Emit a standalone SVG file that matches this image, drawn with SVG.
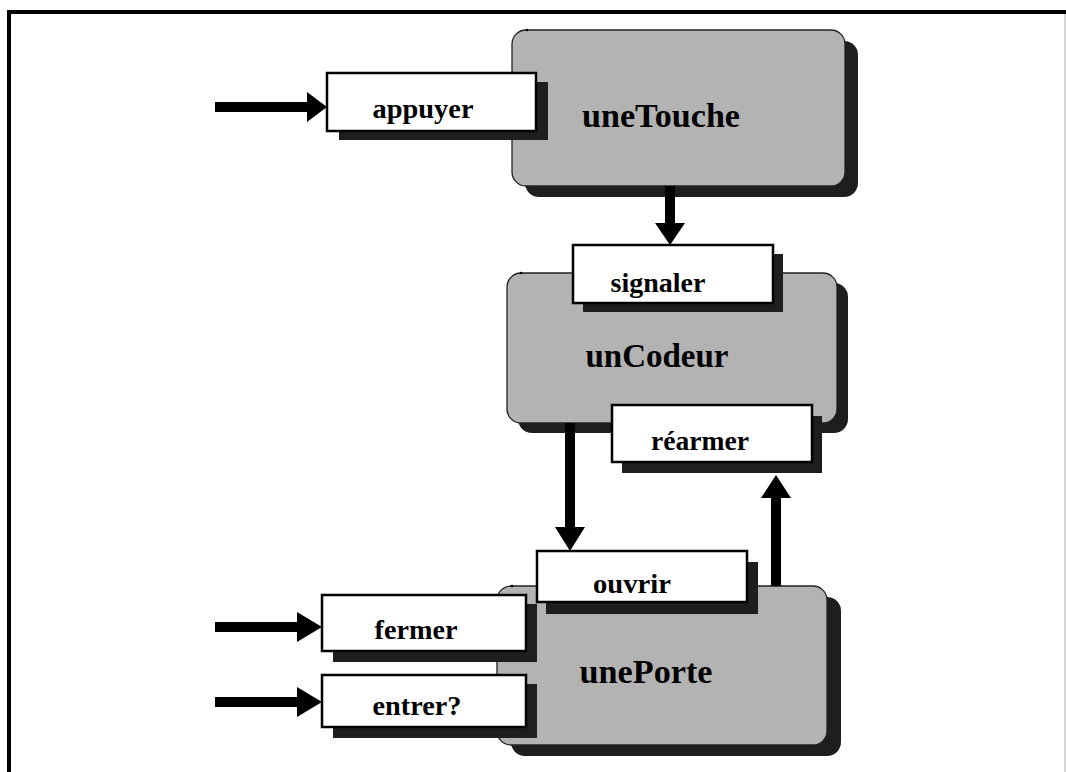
<svg xmlns="http://www.w3.org/2000/svg" width="1066" height="772" viewBox="0 0 1066 772">
  <style>
    .obj { fill: #b3b3b3; stroke: #222; stroke-width: 1.3; }
    .objshadow { fill: #1e1e1e; }
    .op { fill: #fff; stroke: #000; stroke-width: 2.5; }
    .opshadow { fill: #1e1e1e; }
    .name { font-family: "Liberation Serif", "Times New Roman", serif; font-weight: bold; font-size: 34px; fill: #000; text-anchor: middle; }
    .label { font-family: "Liberation Serif", "Times New Roman", serif; font-weight: bold; font-size: 28px; fill: #000; text-anchor: middle; }
    .wire { stroke: #000; stroke-width: 10; fill: none; }
    .head { fill: #000; }
    .tick { fill: #000; }
  </style>

  <!-- frame -->
  <rect x="0" y="0" width="1066" height="772" fill="#fff"/>
  <line x1="9" y1="12" x2="1066" y2="12" stroke="#000" stroke-width="4"/>
  <line x1="9" y1="10" x2="9" y2="772" stroke="#000" stroke-width="4"/>
  <line x1="1065" y1="14" x2="1065" y2="772" stroke="#c8c8c8" stroke-width="1.5"/>

  <!-- object: uneTouche -->
  <g id="uneTouche">
    <rect class="objshadow" x="525" y="41" width="333" height="156" rx="14"/>
    <rect class="obj" x="512" y="30" width="333" height="156" rx="14"/>
    <circle class="tick" cx="527" cy="30" r="1.3"/>
    <text class="name" x="661" y="127" textLength="158" lengthAdjust="spacingAndGlyphs">uneTouche</text>
  </g>

  <!-- operation: appuyer -->
  <g id="appuyer">
    <rect class="opshadow" x="339" y="82" width="209" height="58"/>
    <rect class="op" x="327" y="73" width="209" height="58"/>
    <text class="label" x="423" y="118" textLength="101" lengthAdjust="spacingAndGlyphs">appuyer</text>
  </g>

  <!-- object: unCodeur -->
  <g id="unCodeur">
    <rect class="objshadow" x="518" y="283" width="330" height="150" rx="14"/>
    <rect class="obj" x="507" y="273" width="330" height="150" rx="14"/>
    <circle class="tick" cx="521" cy="273" r="1.3"/>
    <text class="name" x="657" y="367" textLength="143" lengthAdjust="spacingAndGlyphs">unCodeur</text>
  </g>

  <!-- operation: signaler -->
  <g id="signaler">
    <rect class="opshadow" x="583" y="254" width="200" height="58"/>
    <rect class="op" x="573" y="245" width="200" height="58"/>
    <text class="label" x="658" y="292" textLength="95" lengthAdjust="spacingAndGlyphs">signaler</text>
  </g>

  <!-- operation: réarmer -->
  <g id="rearmer">
    <rect class="opshadow" x="622" y="416" width="200" height="57"/>
    <rect class="op" x="612" y="405" width="200" height="57"/>
    <text class="label" x="700" y="450" textLength="98" lengthAdjust="spacingAndGlyphs">réarmer</text>
  </g>

  <!-- object: unePorte -->
  <g id="unePorte">
    <rect class="objshadow" x="511" y="597" width="330" height="159" rx="14"/>
    <rect class="obj" x="497" y="586" width="330" height="159" rx="14"/>
    <circle class="tick" cx="512" cy="586" r="1.3"/>
    <text class="name" x="646" y="683" textLength="133" lengthAdjust="spacingAndGlyphs">unePorte</text>
  </g>

  <!-- operation: ouvrir -->
  <g id="ouvrir">
    <rect class="opshadow" x="546" y="562" width="212" height="52"/>
    <rect class="op" x="537" y="551" width="210" height="51"/>
    <text class="label" x="632" y="593" textLength="78" lengthAdjust="spacingAndGlyphs">ouvrir</text>
  </g>

  <!-- operation: fermer -->
  <g id="fermer">
    <rect class="opshadow" x="333" y="604" width="204" height="58"/>
    <rect class="op" x="322" y="595" width="204" height="56"/>
    <text class="label" x="416" y="639" textLength="83" lengthAdjust="spacingAndGlyphs">fermer</text>
  </g>

  <!-- operation: entrer? -->
  <g id="entrer">
    <rect class="opshadow" x="333" y="684" width="204" height="54"/>
    <rect class="op" x="322" y="675" width="204" height="52"/>
    <text class="label" x="417" y="715" textLength="89" lengthAdjust="spacingAndGlyphs">entrer?</text>
  </g>

  <!-- message arrows -->
  <g id="connectors">
    <line class="wire" x1="215" y1="107" x2="310" y2="107"/>
    <polygon class="head" points="307,92 327,107 307,122"/>

    <line class="wire" x1="670" y1="186" x2="670" y2="226"/>
    <polygon class="head" points="655,223 685,223 670,245"/>

    <line class="wire" x1="570" y1="423" x2="570" y2="530"/>
    <polygon class="head" points="555,527 585,527 570,551"/>

    <line class="wire" x1="776" y1="586" x2="776" y2="495"/>
    <polygon class="head" points="761,498 791,498 776,475"/>

    <line class="wire" x1="215" y1="627" x2="300" y2="627"/>
    <polygon class="head" points="297,612 322,627 297,642"/>

    <line class="wire" x1="215" y1="702" x2="300" y2="702"/>
    <polygon class="head" points="297,687 322,702 297,717"/>
  </g>
</svg>
